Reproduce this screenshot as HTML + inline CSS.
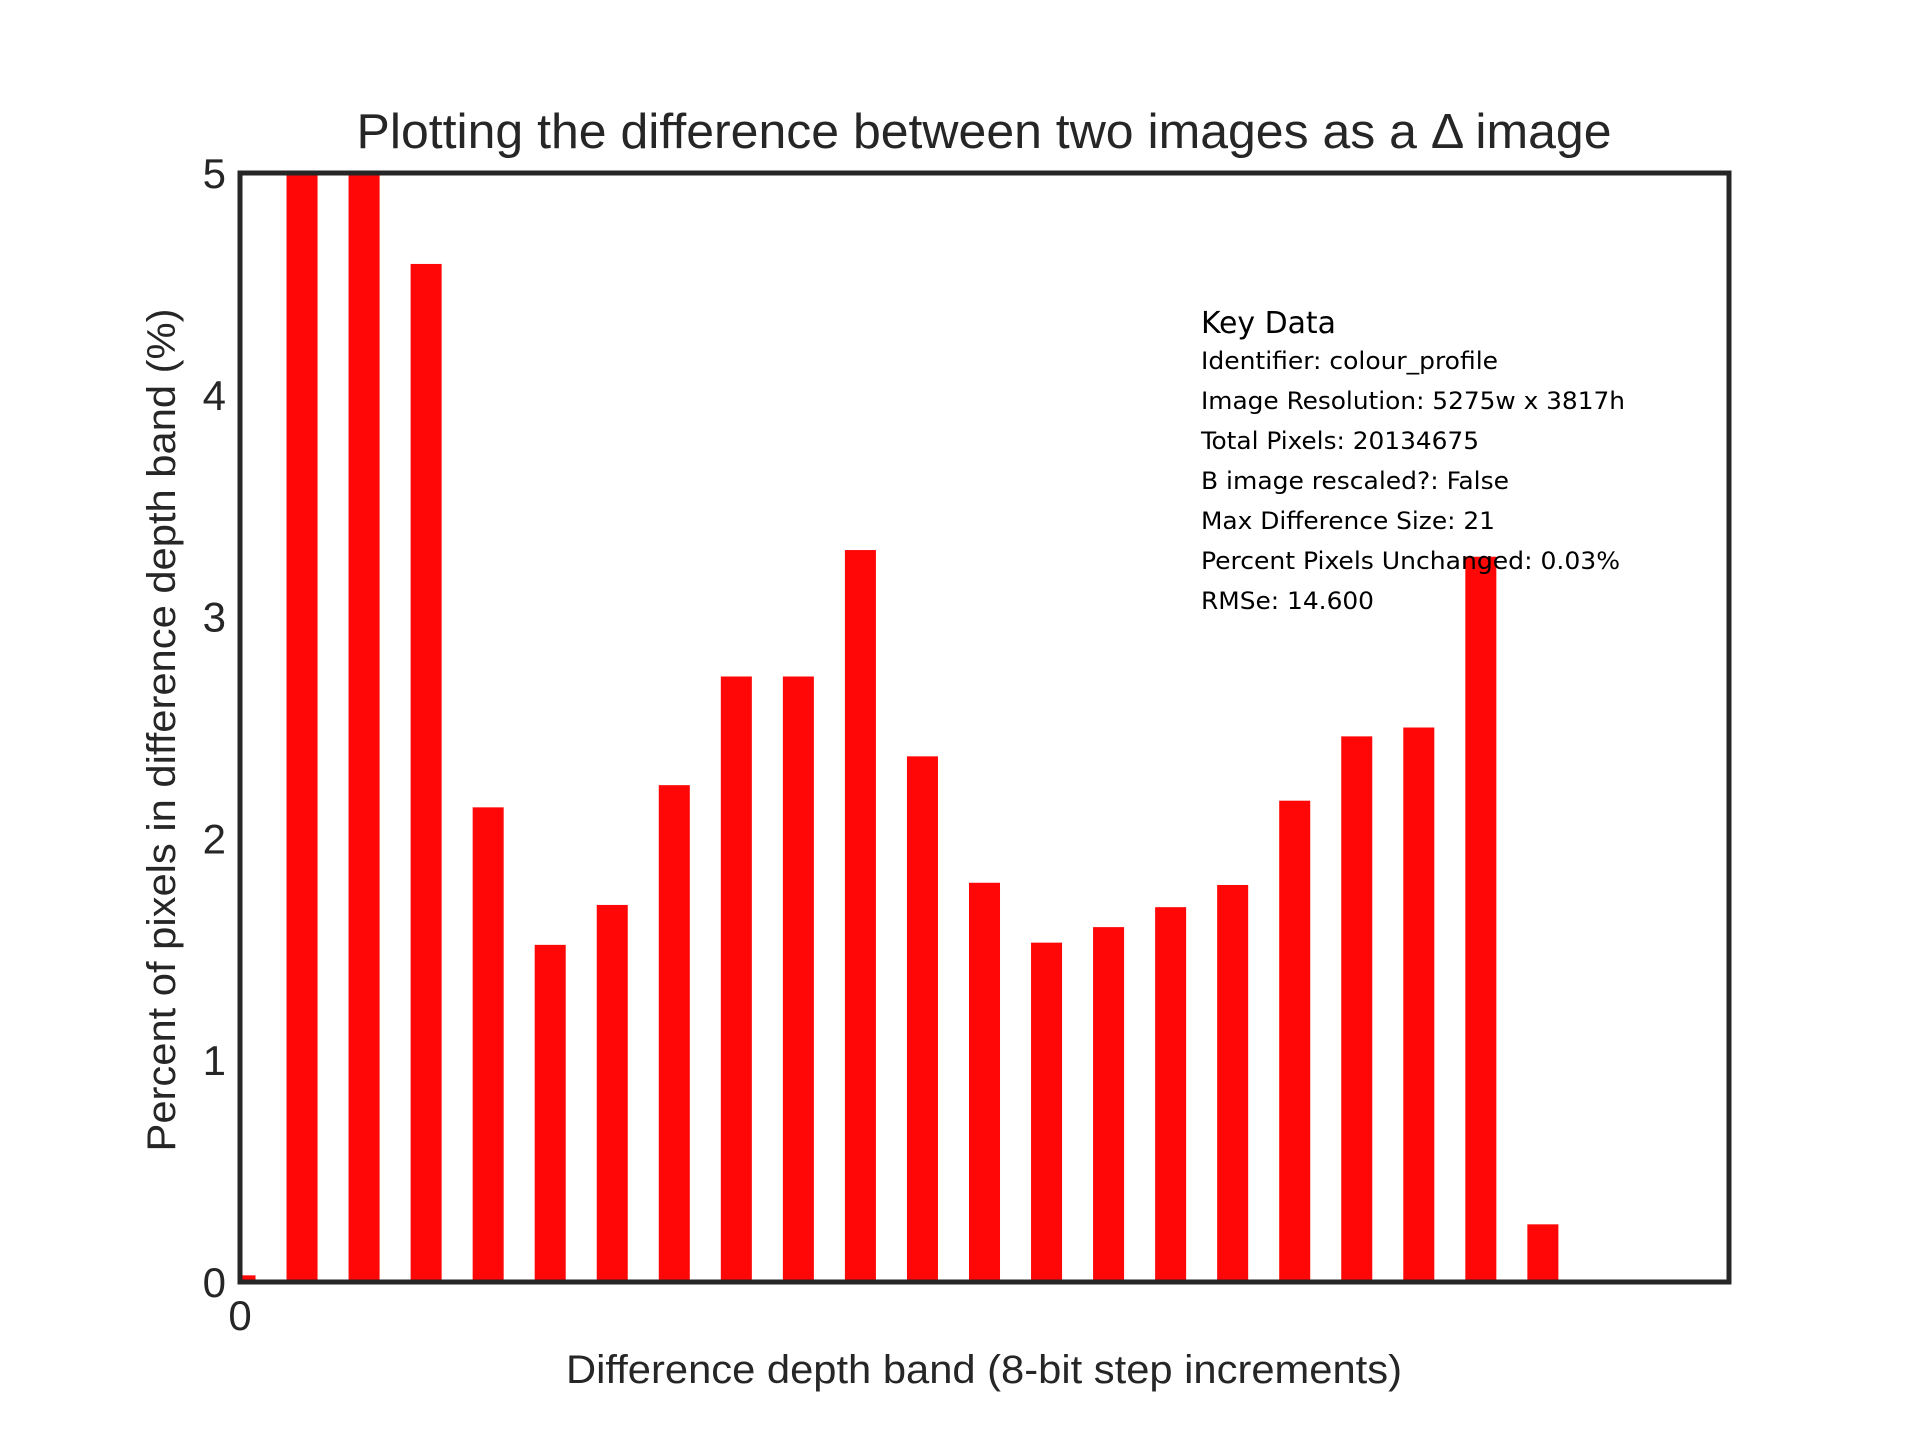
<!DOCTYPE html>
<html><head><meta charset="utf-8"><style>
html,body{margin:0;padding:0;background:#fff;}
svg{display:block;font-family:"Liberation Sans",sans-serif;}
</style></head><body>
<svg id="chart" width="1920" height="1440" viewBox="0 0 1920 1440" xmlns="http://www.w3.org/2000/svg">
<defs><clipPath id="plotclip"><rect x="240" y="173" width="1489" height="1109"/></clipPath></defs>
<rect width="1920" height="1440" fill="#fff"/>
<text x="984" y="148" font-size="49" fill="#262626" text-anchor="middle" textLength="1255" lengthAdjust="spacingAndGlyphs">Plotting the difference between two images as a Δ image</text>
<g id="bars" clip-path="url(#plotclip)"></g>
<rect x="240" y="173" width="1489" height="1109" fill="none" stroke="#262626" stroke-width="5"/>
<g id="yticks"></g>
<g id="xticks"></g>
<text x="984" y="1383" font-size="40" fill="#262626" text-anchor="middle" textLength="836" lengthAdjust="spacingAndGlyphs">Difference depth band (8-bit step increments)</text>
<text transform="translate(175,730) rotate(-90)" font-size="40" fill="#262626" text-anchor="middle" textLength="843" lengthAdjust="spacingAndGlyphs">Percent of pixels in difference depth band (%)</text>
<g fill="#000" font-family="'DejaVu Sans Condensed','Liberation Sans',sans-serif">
<text x="1201" y="333" font-size="30" textLength="135" lengthAdjust="spacingAndGlyphs">Key Data</text>
<text x="1201" y="369" font-size="24" textLength="297" lengthAdjust="spacingAndGlyphs">Identifier: colour_profile</text>
<text x="1201" y="409" font-size="24" textLength="424" lengthAdjust="spacingAndGlyphs">Image Resolution: 5275w x 3817h</text>
<text x="1201" y="449" font-size="24" textLength="278" lengthAdjust="spacingAndGlyphs">Total Pixels: 20134675</text>
<text x="1201" y="489" font-size="24" textLength="308" lengthAdjust="spacingAndGlyphs">B image rescaled?: False</text>
<text x="1201" y="529" font-size="24" textLength="294" lengthAdjust="spacingAndGlyphs">Max Difference Size: 21</text>
<text x="1201" y="569" font-size="24" textLength="419" lengthAdjust="spacingAndGlyphs">Percent Pixels Unchanged: 0.03%</text>
<text x="1201" y="609" font-size="24" textLength="173" lengthAdjust="spacingAndGlyphs">RMSe: 14.600</text>
</g>
</svg>
<script>
const bands = [0,1,2,3,4,5,6,7,8,9,10,11,12,13,14,15,16,17,18,19,20,21];
const percents = [0.03,6.0,6.0,4.59,2.14,1.52,1.70,2.24,2.73,2.73,3.30,2.37,1.80,1.53,1.60,1.69,1.79,2.17,2.46,2.50,3.27,0.26];
const yTickValues = [0,1,2,3,4,5];
const xTickValues = [0];
const xMin = 0, xMax = 24, yMin = 0, yMax = 5;
const L = 240, R = 1729, T = 173, B = 1282;
const barWidth = 0.5;
function xs(v){ return L + (v - xMin) / (xMax - xMin) * (R - L); }
function ys(v){ return B - (v - yMin) / (yMax - yMin) * (B - T); }
const NS = "http://www.w3.org/2000/svg";
const gb = document.getElementById("bars");
bands.forEach((b, i) => {
  const r = document.createElementNS(NS, "rect");
  const x0 = xs(b - barWidth / 2), x1 = xs(b + barWidth / 2);
  r.setAttribute("x", x0);
  r.setAttribute("width", x1 - x0);
  r.setAttribute("y", ys(percents[i]));
  r.setAttribute("height", ys(0) - ys(percents[i]));
  r.setAttribute("fill", "#ff0707");
  
  
  gb.appendChild(r);
});
const gy = document.getElementById("yticks");
yTickValues.forEach(v => {
  const t = document.createElementNS(NS, "text");
  t.setAttribute("x", 226);
  t.setAttribute("y", ys(v) + 15);
  t.setAttribute("font-size", "42");
  t.setAttribute("fill", "#262626");
  t.setAttribute("text-anchor", "end");
  t.textContent = v;
  
  
  gy.appendChild(t);
});
const gx = document.getElementById("xticks");
xTickValues.forEach(v => {
  const t = document.createElementNS(NS, "text");
  t.setAttribute("x", xs(v));
  t.setAttribute("y", 1330);
  t.setAttribute("font-size", "42");
  t.setAttribute("fill", "#262626");
  t.setAttribute("text-anchor", "middle");
  t.textContent = v;
  
  
  gx.appendChild(t);
});
</script>
</body></html>
